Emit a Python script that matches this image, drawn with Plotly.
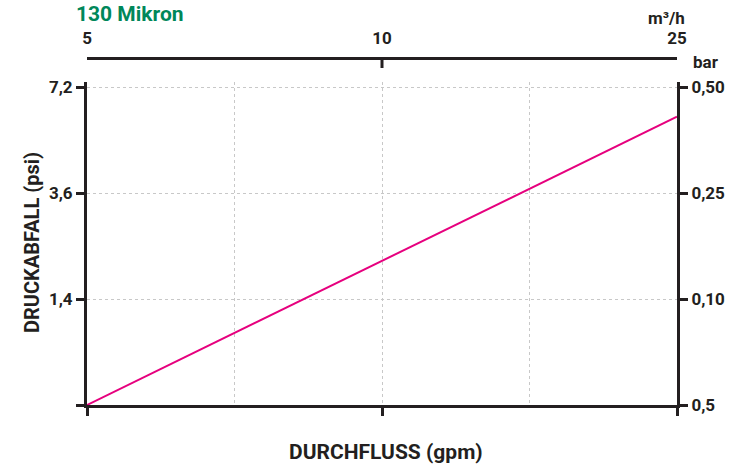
import numpy as np
import plotly.graph_objects as go

# ---- data ----
flow_ticks = [5, 10, 25]              # m3/h tick labels (top axis)
flow_tick_labels = ["5", "10", "25"]
psi_ticks = [0.7, 1.4, 3.6, 7.2]      # left axis (psi)
psi_tick_labels = ["", "1,4", "3,6", "7,2"]
bar_tick_labels = ["0,5", "0,10", "0,25", "0,50"]  # right axis (bar)

flow = [5, 10, 25]
drop_psi = [0.7, 2.2, 6.2]

# piecewise scales: equally spaced tick positions
x_pos_ticks = list(range(len(flow_ticks)))
y_pos_ticks = list(range(len(psi_ticks)))
xp = np.interp(flow, flow_ticks, x_pos_ticks)
yp = np.interp(drop_psi, psi_ticks, y_pos_ticks)

FONT = "Roboto, Liberation Sans, sans-serif"
DARK = "#231f20"
GRID = "#c8c8c8"
PINK = "#e6007e"
GREEN = "#00875a"

W, H = 741, 468
ML, MR, MT, MB = 87, 64, 58, 63
PH = H - MT - MB
ytop_px = 82
ydom_top = (H - MB - ytop_px) / PH

fig = go.Figure()
fig.add_trace(go.Scatter(x=xp, y=yp, mode="lines",
                         line=dict(color=PINK, width=2), showlegend=False,
                         hoverinfo="skip"))
fig.add_trace(go.Scatter(x=[0, 2], y=[0, 0], xaxis="x2", yaxis="y2",
                         mode="lines", line=dict(width=0), opacity=0,
                         showlegend=False, hoverinfo="skip"))

tickfont = dict(family=FONT, size=17, color=DARK, weight="bold")

fig.update_layout(
    width=W, height=H,
    margin=dict(l=ML, r=MR, t=MT, b=MB, autoexpand=False),
    paper_bgcolor="white", plot_bgcolor="white",
    xaxis=dict(range=[0, 2], domain=[0, 1], anchor="y", automargin=False,
               tickvals=x_pos_ticks, ticktext=["", "", ""],
               ticks="outside", ticklen=8, tickwidth=3, tickcolor=DARK,
               showline=True, linewidth=3, linecolor=DARK,
               showgrid=True, gridcolor=GRID, griddash="dot", gridwidth=1,
               minor=dict(tickvals=[0.5, 1.5], showgrid=True, gridcolor=GRID,
                          griddash="dot", gridwidth=1, ticks=""),
               zeroline=False, fixedrange=True),
    yaxis=dict(range=[0, 3.05], domain=[0, ydom_top], anchor="x",
               automargin=False,
               tickvals=y_pos_ticks, ticktext=psi_tick_labels,
               ticks="outside", ticklen=8, tickwidth=3, tickcolor=DARK,
               tickfont=tickfont,
               showline=True, linewidth=3, linecolor=DARK,
               showgrid=True, gridcolor=GRID, griddash="dot", gridwidth=1,
               zeroline=False),
    yaxis2=dict(range=[0, 3.05], domain=[0, ydom_top], overlaying="y",
                side="right", anchor="x", automargin=False,
                tickvals=y_pos_ticks, ticktext=bar_tick_labels,
                ticks="outside", ticklen=8, tickwidth=3, tickcolor=DARK,
                tickfont=tickfont,
                showline=True, linewidth=3, linecolor=DARK,
                showgrid=False, zeroline=False),
    xaxis2=dict(range=[0, 2], overlaying="x", side="top", anchor="free",
                position=1, automargin=False,
                tickvals=x_pos_ticks, ticktext=flow_tick_labels,
                ticks="outside", ticklen=6, tickcolor="rgba(0,0,0,0)",
                tickfont=tickfont,
                showline=True, linewidth=3, linecolor=DARK,
                showgrid=False, zeroline=False),
)

# tick on the top axis at 10
fig.add_shape(type="line", xref="x", yref="paper", x0=1, x1=1,
              y0=1, y1=1 - 10 / PH, line=dict(color=DARK, width=3))

def py(px):
    return (H - MB - px) / PH

def pxx(px):
    return (px - ML) / (W - ML - MR)

fig.add_annotation(text="130 Mikron", xref="paper", yref="paper",
                   x=pxx(74), y=py(14), xanchor="left", yanchor="middle",
                   showarrow=False,
                   font=dict(family=FONT, size=21, color=GREEN, weight="bold"))
fig.add_annotation(text="m³/h", xref="paper", yref="paper",
                   x=pxx(687), y=py(18), xanchor="right", yanchor="middle",
                   showarrow=False,
                   font=dict(family=FONT, size=17, color=DARK, weight="bold"))
fig.add_annotation(text="bar", xref="paper", yref="paper",
                   x=pxx(706), y=py(62), xanchor="center", yanchor="middle",
                   showarrow=False,
                   font=dict(family=FONT, size=17, color=DARK, weight="bold"))
fig.add_annotation(text="DURCHFLUSS (gpm)", xref="paper", yref="paper",
                   x=pxx(386), y=py(452), xanchor="center", yanchor="middle",
                   showarrow=False,
                   font=dict(family=FONT, size=21, color=DARK, weight="bold"))
fig.add_annotation(text="DRUCKABFALL (psi)", xref="paper", yref="paper",
                   x=pxx(32), y=py(243), xanchor="center", yanchor="middle",
                   textangle=-90, showarrow=False,
                   font=dict(family=FONT, size=20, color=DARK, weight="bold"))

fig.write_html("out.html",
               config={"displayModeBar": False, "staticPlot": True},
               post_script="document.body.style.margin='0';"
                           "document.body.style.overflow='hidden';")
